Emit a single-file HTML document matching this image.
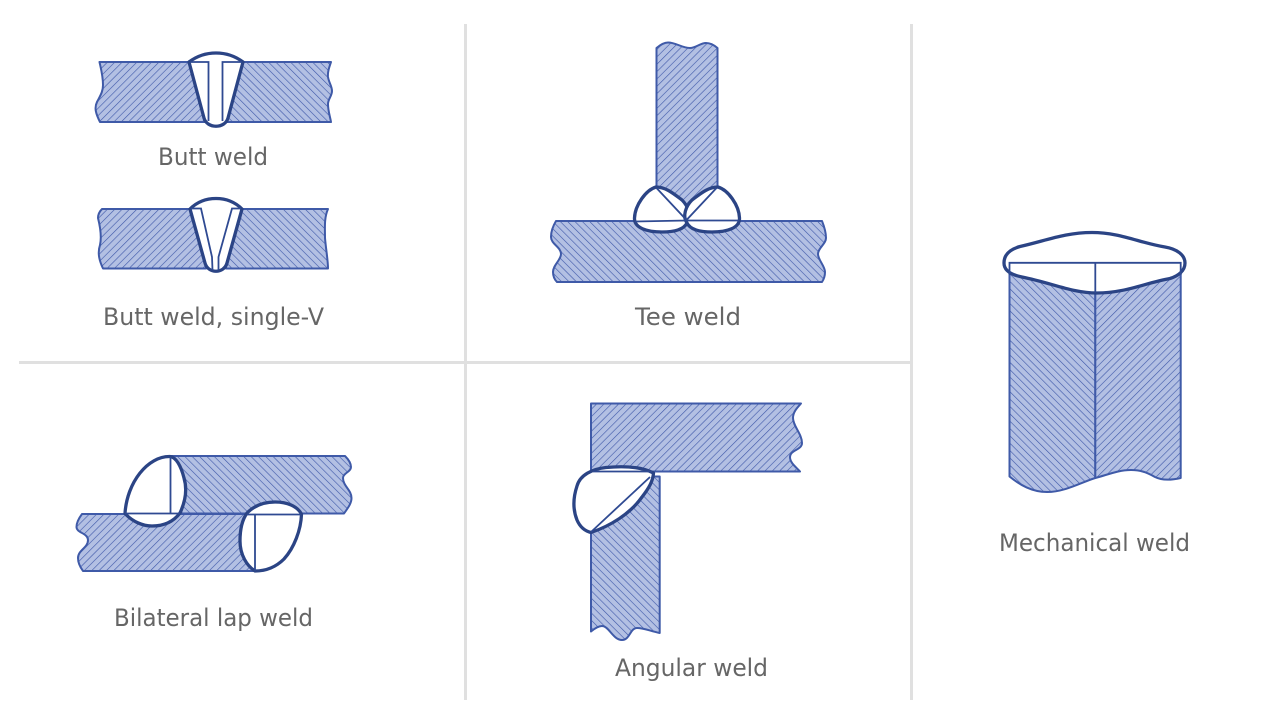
<!DOCTYPE html>
<html>
<head>
<meta charset="utf-8">
<style>
html,body{margin:0;padding:0;background:#fff;width:1282px;height:725px;overflow:hidden}
svg{display:block}
text{font-family:"DejaVu Sans","Liberation Sans",sans-serif;font-size:24px;fill:#666}
.p{stroke:#3f5aa8;stroke-width:2;stroke-linejoin:round}
.w{fill:#fff;stroke:#2b4485;stroke-width:3.3;stroke-linejoin:round}
.t{fill:none;stroke:#2f4a92;stroke-width:1.8}
.a{fill:url(#ha)}
.b{fill:url(#hb)}
</style>
</head>
<body>
<svg width="1282" height="725" viewBox="0 0 1282 725" xmlns="http://www.w3.org/2000/svg">
<defs>
<pattern id="ha" patternUnits="userSpaceOnUse" width="5.2" height="5.2" patternTransform="rotate(45)">
<rect width="5.2" height="5.2" fill="#b3c0e3"/><rect x="0" y="0" width="0.6" height="5.2" fill="#3d57a8"/>
</pattern>
<pattern id="hb" patternUnits="userSpaceOnUse" width="5.2" height="5.2" patternTransform="rotate(-45)">
<rect width="5.2" height="5.2" fill="#b3c0e3"/><rect x="0" y="0" width="0.6" height="5.2" fill="#3d57a8"/>
</pattern>
</defs>

<!-- grid -->
<rect x="464" y="24" width="3" height="676" fill="#e0e0e0"/>
<rect x="910" y="24" width="3" height="676" fill="#e0e0e0"/>
<rect x="19" y="361" width="891" height="3" fill="#e0e0e0"/>

<!-- Butt weld -->
<path class="p a" d="M99.500,62 H205 V122 H100 C96,114 94,108 97,102 C100,96 103,92 103,85 C103,76 101,69 99.500,62 Z"/>
<path class="p b" d="M225,62 H331 C329,68 327.500,72 328,77 C329,83 332,86 332,91 C332,96 328,99 328,104 C328,111 330,116 331,122 H225 Z"/>
<path class="w" d="M189,62 C205,50 227,50 243,62 L228,118 C225,129 207,129 204,118 Z"/>
<path class="t" d="M190,62 H208.500 V121 M242,62 H222.500 V121"/>

<!-- Butt weld single V -->
<path class="p a" d="M102,209 H206 V268.500 H103 C100,262 97,254 100,245 C102,236 100,226 98,218 C98,214 100,211 102,209 Z"/>
<path class="p b" d="M226,209 H328 C324,218 325,228 325,238 C326,250 328,260 328,268.500 H226 Z"/>
<path class="w" d="M190,209 C204,195 228,195 242,209 L227,263 C224,274 208,274 205,263 Z"/>
<path class="t" d="M191,208.500 H201 L212,257 L212.500,270 M241,208.500 H232 L218.500,257 L218.500,270"/>

<text x="158" y="165" textLength="110" lengthAdjust="spacingAndGlyphs">Butt weld</text>
<text x="103" y="325" textLength="221" lengthAdjust="spacingAndGlyphs">Butt weld, single-V</text>

<!-- Tee weld -->
<path class="p a" d="M656.500,48 C660,45 664,42.500 668,42.500 C676,42.500 682,48 690,48 C696,48 700,43 706,43 C710,43 714,45 717.500,48 V190 L687,215 L656.500,190 Z"/>
<path class="p b" d="M556,221 H822 C824,226 826,232 826,238 C826,244 818,248 818,254 C818,260 825,266 825,272 C825,276 824,279 822,282 H557 C554,279 553,276 553,272 C553,265 561,260 561,254 C561,247 551,244 551,237 C551,231 553,226 556,221 Z"/>
<path class="w" d="M656,187 C646,190 635,205 634.500,218 C634,228 647,232 662,232 C675,232 684,229 687,223 C692,216 688,206 682,200 C674,194 666,187 656,187 Z"/>
<path class="w" d="M718,187 C728,190 739,205 739.500,218 C740,228 727,232 712,232 C699,232 690,229 687,223 C682,216 686,206 692,200 C700,194 708,187 718,187 Z"/>
<path class="t" d="M656.500,188 L686.500,220 L716.500,188 M635,221.500 L686.500,220.500 L739,220.500"/>
<text x="635" y="325" textLength="106" lengthAdjust="spacingAndGlyphs">Tee weld</text>

<!-- Mechanical weld -->
<path class="p b" d="M1009.500,262 H1095.300 V478 C1082,482 1065,492 1047,492 C1032,492 1020,485 1009.500,476.500 Z"/>
<path class="p a" d="M1095.300,262 H1180.700 V478 C1172,480 1163,481 1155,477 C1146,472 1140,470 1131,470 C1118,470 1107,475 1095.300,478 Z"/>
<path class="w" d="M1004,263 C1004,254 1011,249 1020,246.500 C1045,241 1065,232.500 1092,232.500 C1120,232.500 1140,243 1165,247 C1177,249 1185,255 1185,263 C1185,271 1178,276 1170,278.500 C1145,283 1125,293 1097,293 C1072,293 1052,283 1022,277 C1012,275 1004,271 1004,263 Z"/>
<path class="t" d="M1009.500,275 V262.800 H1180.700 V275 M1095.300,262.800 V293"/>
<text x="999" y="551" textLength="191" lengthAdjust="spacingAndGlyphs">Mechanical weld</text>

<!-- Bilateral lap weld -->
<path class="p b" d="M170,456 H345 C348,459 351,463 351,467 C351,472 343,473 343,478 C343,486 351.500,490 351.500,498 C351.500,504 347,509 344,513.500 H170 Z"/>
<path class="p a" d="M82,514 H255 V571 H83 C80,567 78,563 78,558 C78,550 88,548 88,540 C88,533 76.500,533 76.500,527 C76.500,522 79,518 82,514 Z"/>
<path class="w" d="M170,456.500 C148,456 127,482 125,513.500 C133,522 143,526 152,526 C165,526 174,521 180,513 C186,500 187,488 184,478 C181,466 176,457 170,456.500 Z"/>
<path class="t" d="M170.500,457 V513.500 M125,513.500 H180"/>
<path class="w" d="M247,513 C254,506 264,502 275,502 C287,502 297,506 301.500,514 C301,530 294,548 284,559 C275,568 265,571 255,571 C247,566 240,555 240,541 C240,530 242,520 247,513 Z"/>
<path class="t" d="M247,514.500 H300.500 M255,514.500 V571"/>
<text x="114" y="626" textLength="199" lengthAdjust="spacingAndGlyphs">Bilateral lap weld</text>

<!-- Angular weld -->
<path class="p a" d="M591,403.500 H801 C797,408 793,412 793,418 C793,426 802,434 802,443 C802,450 790,450 790,457 C790,463 796,467 800,471.500 H591 Z"/>
<path class="p b" d="M591,476.500 H659.700 V633 C650,631 644,628 637,628 C630,628 630,640 622,640 C613,640 609,626 602,626 C598,626 594,629 591,631.500 Z"/>
<path class="w" d="M653.500,473 C640,466 622,466 606,467.500 C592,469 580,475 577,486 C573,498 573,510 577,520 C580,527 585,531 591,532.500 C610,526 630,514 642,497 C649,488 653,481 653.500,473 Z"/>
<path class="t" d="M591,532 L650,477 M593,471.500 H652"/>
<text x="615" y="676" textLength="153" lengthAdjust="spacingAndGlyphs">Angular weld</text>
</svg>
</body>
</html>
